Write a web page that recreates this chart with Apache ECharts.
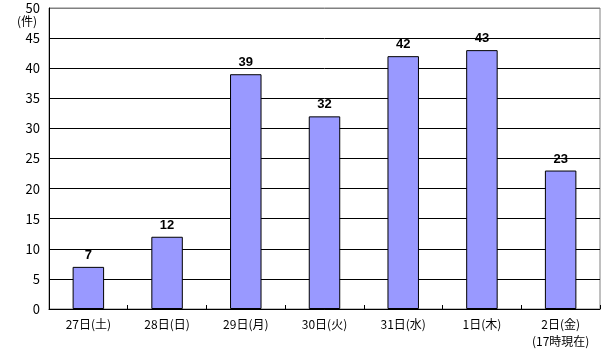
<!DOCTYPE html>
<html><head><meta charset="utf-8">
<script src="https://cdn.jsdelivr.net/npm/echarts@6/dist/echarts.min.js"></script>
<style>html,body{margin:0;padding:0;background:#fff}#c{width:607px;height:350px}</style>
</head><body><div id="c"></div>
<script>
var categories = ['27日(土)','28日(日)','29日(月)','30日(火)','31日(水)','1日(木)','2日(金)\n(17時現在)'];
var counts = [7, 12, 39, 32, 42, 43, 23];
var yTicks = [0, 5, 10, 15, 20, 25, 30, 35, 40, 45, 50];
var unitLabel = '(件)';

var font = '"MS PGothic","Noto Sans CJK JP",sans-serif';
var chart = echarts.init(document.getElementById('c'));
var splitColors = yTicks.map(function(v){ return v === 50 ? '#808080' : '#000'; });
chart.setOption({
  animation: false,
  grid: {left: 49, right: 7, top: 8, bottom: 41, show: true, borderColor: '#808080', borderWidth: 1, backgroundColor: 'transparent'},
  xAxis: {
    type: 'category', data: categories,
    axisLine: {lineStyle: {color: '#000', width: 1}},
    axisTick: {show: true, inside: true, length: 4, lineStyle: {color: '#000'}},
    axisLabel: {color: '#000', fontSize: 12, fontFamily: font, margin: 7, lineHeight: 17, interval: 0}
  },
  yAxis: {
    type: 'value', min: 0, max: 50, interval: 5,
    axisLine: {show: true, lineStyle: {color: '#000', width: 1}},
    axisTick: {show: false},
    axisLabel: {color: '#000', fontSize: 13, fontFamily: font, margin: 9},
    splitLine: {show: true, lineStyle: {color: splitColors, width: 1}}
  },
  graphic: [{type: 'text', left: 17, top: 15, style: {text: unitLabel, fill: '#000', font: '12px ' + font}}],
  series: [{
    type: 'bar', data: counts, barWidth: '40%',
    itemStyle: {color: '#9999ff', borderColor: '#000', borderWidth: 1},
    label: {show: true, position: 'top', distance: 5, color: '#000', fontWeight: 'bold', fontSize: 13, fontFamily: 'Arial,"Liberation Sans",sans-serif'}
  }]
});
</script></body></html>
